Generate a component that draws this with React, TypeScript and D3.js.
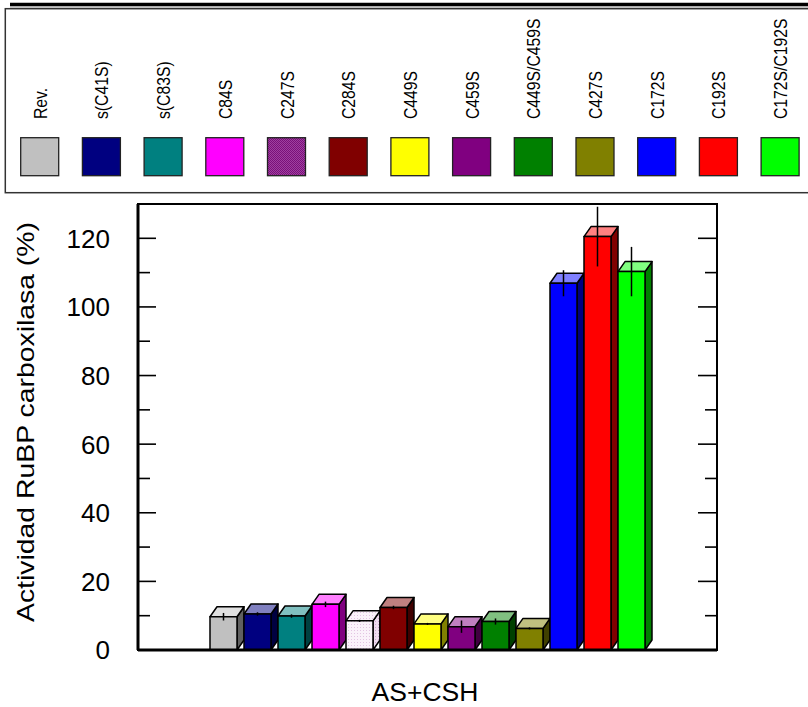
import * as d3 from 'd3';

// Mutants shown in the legend and on the x axis (one group, AS+CSH)
const categories = [
  'Rev.', 's(C41S)', 's(C83S)', 'C84S', 'C247S', 'C284S', 'C449S',
  'C459S', 'C449S/C459S', 'C427S', 'C172S', 'C192S', 'C172S/C192S',
];
const activity = [9.7, 10.5, 9.9, 13.3, 8.5, 12.4, 7.6, 6.8, 8.3, 6.3, 106.9, 120.5, 110.3];
const errors = [1.1, 0.5, 0.5, 0.8, 0.3, 0.5, 0.3, 1.8, 0.9, 0.3, 3.8, 8.7, 7.2];
const barColors = [
  '#c0c0c0', '#000080', '#008080', '#ff00ff', '#f6eaf6', '#800000', '#ffff00',
  '#800080', '#008000', '#808000', '#0000ff', '#ff0000', '#00ff00',
];
const yTicks = [0, 20, 40, 60, 80, 100, 120];
const yMinorTicks = [10, 30, 50, 70, 90, 110];

const W = 808;
const H = 707;
const plot = { left: 138, right: 717, top: 204, bottom: 650 };
const depth = { dx: 7, dy: 10 };
const font = '"Liberation Sans", Arial, sans-serif';

const App = () => {
  const y = d3.scaleLinear().domain([0, 130]).range([plot.bottom, plot.top]);
  const x = d3.scaleBand<string>()
    .domain(categories)
    .range([210, 645])
    .paddingInner(7 / 34)
    .paddingOuter(0);
  const legendX = d3.scaleBand<string>()
    .domain(categories)
    .range([20.7, 20.7 + 61.7 * categories.length]);

  const lighter = (c: string) => d3.interpolateRgb(c, '#ffffff')(0.5);
  const darker = (c: string) => d3.interpolateRgb(c, '#000000')(0.5);
  const bw = x.bandwidth();

  return (
    <div style={{ position: 'fixed', left: 0, top: 0 }}>
      <svg width={W} height={H} style={{ display: 'block', fontFamily: font }}>
        <defs>
          <pattern id="paleDots" width="3" height="3" patternUnits="userSpaceOnUse">
            <rect width="3" height="3" fill="#faf2fa" />
            <rect width="1" height="1" fill="#e2c4e2" />
          </pattern>
          <pattern id="paleDotsSide" width="3" height="3" patternUnits="userSpaceOnUse">
            <rect width="3" height="3" fill="#efdcef" />
            <rect width="1" height="1" fill="#cfa8cf" />
          </pattern>
          <pattern id="purpleCheck" width="2" height="2" patternUnits="userSpaceOnUse">
            <rect width="2" height="2" fill="#a040a0" />
            <rect width="1" height="1" fill="#7a107a" />
            <rect x="1" y="1" width="1" height="1" fill="#7a107a" />
          </pattern>
        </defs>
        <rect width={W} height={H} fill="#fff" />

        {/* legend */}
        <line x1={10} x2={W} y1={4.5} y2={4.5} stroke="#000" strokeWidth={3.5} />
        <line x1={10} x2={W} y1={7} y2={7} stroke="#9a9a9a" strokeWidth={1} />
        <rect x={5.3} y={8.7} width={900} height={184} fill="#fff" stroke="#333" strokeWidth={1.5} />
        {categories.map((c, i) => {
          const lx = legendX(c) as number;
          const fill = i === 4 ? 'url(#purpleCheck)' : barColors[i];
          return (
            <g key={c}>
              <rect x={lx} y={137.7} width={38} height={38} fill={fill} stroke="#222" strokeWidth={1.3} />
              <text
                transform={`translate(${lx + 19 + 7},119) rotate(-90) scale(0.9,1)`}
                fontSize={17.5}
                fill="#000"
              >
                {c}
              </text>
            </g>
          );
        })}

        {/* bars */}
        {categories.map((c, i) => {
          const bx = x(c) as number;
          const yt = y(activity[i]);
          const yb = plot.bottom;
          const { dx, dy } = depth;
          const special = i === 4;
          const front = special ? 'url(#paleDots)' : barColors[i];
          const top = special ? 'url(#paleDots)' : lighter(barColors[i]);
          const side = special ? 'url(#paleDotsSide)' : darker(barColors[i]);
          const topPts = [[bx, yt], [bx + dx, yt - dy], [bx + bw + dx, yt - dy], [bx + bw, yt]];
          const sidePts = [[bx + bw, yt], [bx + bw + dx, yt - dy], [bx + bw + dx, yb - dy], [bx + bw, yb]];
          return (
            <g key={c} stroke="#000" strokeWidth={1.5} strokeLinejoin="round">
              <polygon points={sidePts.map(p => p.join(',')).join(' ')} fill={side} />
              <polygon points={topPts.map(p => p.join(',')).join(' ')} fill={top} />
              <rect x={bx} y={yt} width={bw} height={yb - yt} fill={front} />
              <line
                x1={bx + bw / 2}
                x2={bx + bw / 2}
                y1={y(activity[i] + errors[i])}
                y2={y(activity[i] - errors[i])}
              />
            </g>
          );
        })}

        {/* frame and ticks */}
        <rect
          x={plot.left}
          y={plot.top}
          width={plot.right - plot.left}
          height={plot.bottom - plot.top}
          fill="none"
          stroke="#000"
          strokeWidth={2}
        />
        <line x1={plot.left} x2={plot.left} y1={plot.top} y2={plot.bottom} stroke="#000" strokeWidth={3} />
        <line x1={plot.left} x2={plot.right} y1={plot.bottom} y2={plot.bottom} stroke="#000" strokeWidth={3} />
        {yTicks.map(t => (
          <g key={t}>
            <line x1={plot.left} x2={plot.left + 18} y1={y(t)} y2={y(t)} stroke="#000" strokeWidth={1.6} />
            <line x1={plot.right} x2={plot.right - 19} y1={y(t)} y2={y(t)} stroke="#000" strokeWidth={1.6} />
            <text x={110} y={y(t)} dy="0.36em" textAnchor="end" fontSize={26} fill="#000">
              {t}
            </text>
          </g>
        ))}
        {yMinorTicks.map(t => (
          <g key={t}>
            <line x1={plot.left} x2={plot.left + 12} y1={y(t)} y2={y(t)} stroke="#000" strokeWidth={1.6} />
            <line x1={plot.right} x2={plot.right - 12} y1={y(t)} y2={y(t)} stroke="#000" strokeWidth={1.6} />
          </g>
        ))}

        {/* axis titles */}
        <text
          transform="translate(33.5,422) rotate(-90)"
          textAnchor="middle"
          fontSize={24}
          textLength={400}
          lengthAdjust="spacingAndGlyphs"
          fill="#000"
        >
          Actividad RuBP carboxilasa (%)
        </text>
        <text x={425} y={701} textAnchor="middle" fontSize={26.5} fill="#000">
          AS+CSH
        </text>
      </svg>
    </div>
  );
};

export default App;
